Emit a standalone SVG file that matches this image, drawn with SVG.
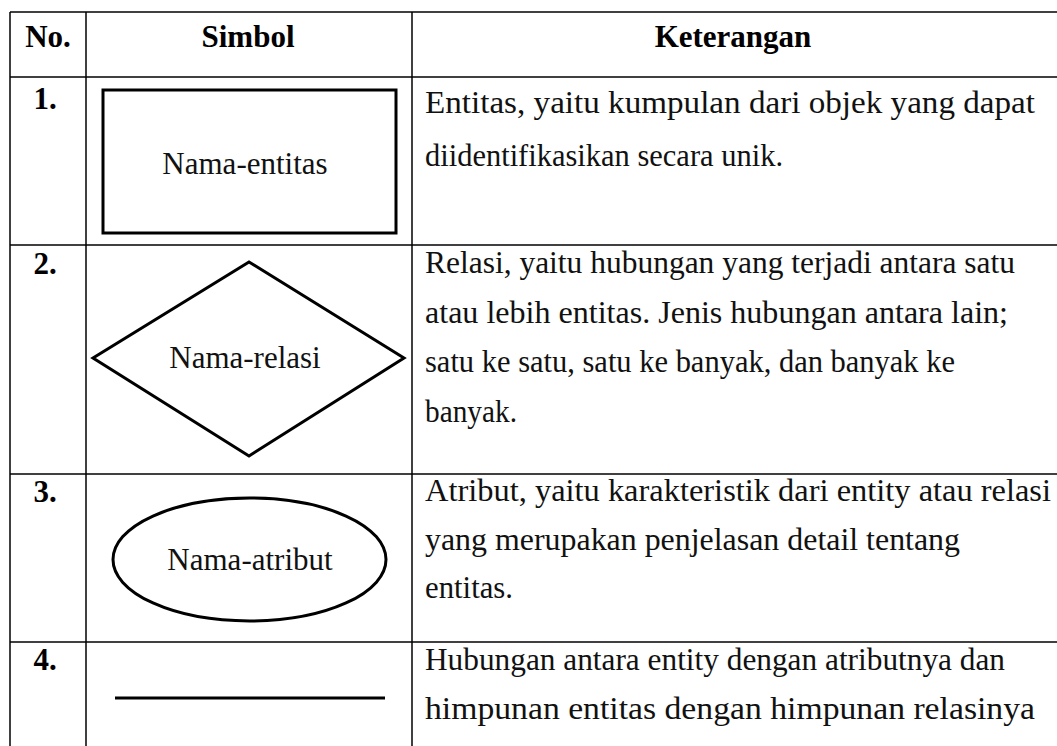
<svg xmlns="http://www.w3.org/2000/svg" width="1057" height="746" viewBox="0 0 1057 746">
  <style>
    .grid { stroke: #000; stroke-width: 1.5; fill: none; }
    .sym { stroke: #000; stroke-width: 3; fill: none; }
    text { font-family: 'Liberation Serif', 'Times New Roman', Times, serif; fill: #111; }
    .hd { font-weight: bold; font-size: 31px; fill: #000; text-anchor: middle; }
    .tx { font-size: 32px; }
    .lb { font-size: 31px; text-anchor: middle; }
  </style>
  <rect width="1057" height="746" fill="#fff"/>
  <g id="table-grid" class="grid">
    <line x1="10" y1="12" x2="1057" y2="12"/>
    <line x1="10" y1="77" x2="1057" y2="77"/>
    <line x1="10" y1="245" x2="1057" y2="245"/>
    <line x1="10" y1="474" x2="1057" y2="474"/>
    <line x1="10" y1="642" x2="1057" y2="642"/>
    <line x1="10" y1="12" x2="10" y2="746"/>
    <line x1="86" y1="12" x2="86" y2="746"/>
    <line x1="412" y1="12" x2="412" y2="746"/>
  </g>
  <g id="header">
    <text class="hd" x="48" y="47">No.</text>
    <text class="hd" x="248" y="47">Simbol</text>
    <text class="hd" x="733" y="47">Keterangan</text>
  </g>
  <g id="row1">
    <text class="hd" x="45" y="109">1.</text>
    <rect class="sym" x="103" y="90" width="293" height="143" stroke-width="3.5"/>
    <text class="lb" x="245" y="174">Nama-entitas</text>
    <text class="tx" x="425" y="113" textLength="610" lengthAdjust="spacingAndGlyphs">Entitas, yaitu kumpulan dari objek yang dapat</text>
    <text class="tx" x="425" y="166" textLength="358" lengthAdjust="spacingAndGlyphs">diidentifikasikan secara unik.</text>
  </g>
  <g id="row2">
    <text class="hd" x="45" y="274">2.</text>
    <polygon class="sym" points="249,262 404,358 249,456 93,358"/>
    <text class="lb" x="245" y="368">Nama-relasi</text>
    <text class="tx" x="425" y="273" textLength="590" lengthAdjust="spacingAndGlyphs">Relasi, yaitu hubungan yang terjadi antara satu</text>
    <text class="tx" x="425" y="323" textLength="583" lengthAdjust="spacingAndGlyphs">atau lebih entitas. Jenis hubungan antara lain;</text>
    <text class="tx" x="425" y="372" textLength="530" lengthAdjust="spacingAndGlyphs">satu ke satu, satu ke banyak, dan banyak ke</text>
    <text class="tx" x="425" y="422" textLength="92" lengthAdjust="spacingAndGlyphs">banyak.</text>
  </g>
  <g id="row3">
    <text class="hd" x="45" y="502">3.</text>
    <ellipse class="sym" cx="249.5" cy="559.5" rx="136.5" ry="61.5"/>
    <text class="lb" x="250" y="570">Nama-atribut</text>
    <text class="tx" x="425" y="501" textLength="626" lengthAdjust="spacingAndGlyphs">Atribut, yaitu karakteristik dari entity atau relasi</text>
    <text class="tx" x="425" y="550" textLength="535" lengthAdjust="spacingAndGlyphs">yang merupakan penjelasan detail tentang</text>
    <text class="tx" x="425" y="598" textLength="88" lengthAdjust="spacingAndGlyphs">entitas.</text>
  </g>
  <g id="row4">
    <text class="hd" x="45" y="670">4.</text>
    <line class="sym" x1="115" y1="698" x2="385" y2="698" stroke-width="4"/>
    <text class="tx" x="425" y="670" textLength="580" lengthAdjust="spacingAndGlyphs">Hubungan antara entity dengan atributnya dan</text>
    <text class="tx" x="425" y="719" textLength="610" lengthAdjust="spacingAndGlyphs">himpunan entitas dengan himpunan relasinya</text>
  </g>
</svg>
